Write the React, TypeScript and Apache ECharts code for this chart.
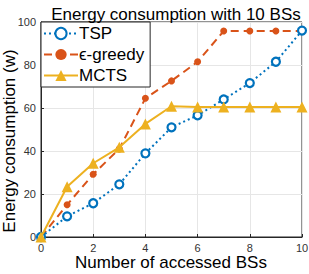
import React, { useEffect, useRef } from "react";
import * as echarts from "echarts";

const xCats = [0, 1, 2, 3, 4, 5, 6, 7, 8, 9, 10];
const tspVals = [0, 9.6, 15.7, 24.5, 38.9, 51, 56.6, 64, 71.6, 81.5, 96];
const greedyVals = [0, 15, 29.2, 41, 64.5, 72.6, 81.5, 95.8, 95.8, 95.8, 95.8];
const mctsVals = [0, 23.4, 34.3, 41.7, 52.6, 60.8, 60.5, 60.5, 60.5, 60.5, 60.5];

const FONT = "Liberation Sans";

export default function App() {
  const ref = useRef<HTMLDivElement>(null);
  useEffect(() => {
    if (!ref.current) return;
    const chart = echarts.init(ref.current, undefined, { renderer: "svg" });
    const pair = (vals: number[]) => xCats.map((x, i) => [x, vals[i]]);
    chart.setOption({
      animation: false,
      backgroundColor: "#ffffff",
      textStyle: { fontFamily: FONT },
      title: {
        text: "Energy consumption with 10 BSs",
        left: 171,
        textAlign: "center",
        top: 1,
        textStyle: { fontFamily: FONT, fontSize: 17, fontWeight: "normal", color: "#000" },
      },
      graphic: [
        {
          type: "text",
          x: 9.5,
          y: 141,
          rotation: Math.PI / 2,
          style: {
            text: "Energy consumption (w)",
            fontFamily: FONT,
            fontSize: 17,
            fill: "#000",
            align: "center",
            verticalAlign: "middle",
          },
        },
        {
          type: "text",
          x: 171,
          y: 262,
          style: {
            text: "Number of accessed BSs",
            fontFamily: FONT,
            fontSize: 17,
            fill: "#000",
            align: "center",
            verticalAlign: "middle",
          },
        },
      ],
      grid: {
        left: 41,
        right: 7,
        top: 22,
        bottom: 37,
        containLabel: false,
        outerBoundsMode: "none",
        show: true,
        borderColor: "#262626",
        borderWidth: 1,
        backgroundColor: "#fff",
      },
      legend: {
        orient: "vertical",
        left: 41,
        top: 22,
        backgroundColor: "#fff",
        borderColor: "#262626",
        borderWidth: 1,
        borderRadius: 0,
        padding: [3, 6, 3, 2],
        itemGap: 4,
        itemWidth: 34,
        itemHeight: 14,
        textStyle: { fontFamily: FONT, fontSize: 17, color: "#000", padding: [0, 0, 0, -4] },
        data: ["TSP", "ϵ-greedy", "MCTS"],
      },
      xAxis: {
        type: "value",
        min: 0,
        max: 10,
        interval: 2,
        axisLine: { show: true, lineStyle: { color: "#262626" } },
        axisTick: { show: true, inside: true, length: 3, lineStyle: { color: "#262626" } },
        axisLabel: { fontFamily: FONT, fontSize: 11, color: "#333", margin: 5 },
        splitLine: { show: true, lineStyle: { color: "#e6e6e6", width: 1 } },
      },
      yAxis: {
        type: "value",
        min: 0,
        max: 100,
        interval: 20,
        axisLine: { show: true, lineStyle: { color: "#262626" } },
        axisTick: { show: true, inside: true, length: 3, lineStyle: { color: "#262626" } },
        axisLabel: { fontFamily: FONT, fontSize: 11, color: "#333", margin: 5 },
        splitLine: { show: true, lineStyle: { color: "#e6e6e6", width: 1 } },
      },
      series: [
        {
          name: "TSP",
          type: "line",
          data: pair(tspVals),
          z: 3,
          symbol: "circle",
          symbolSize: 8,
          showAllSymbol: true,
          lineStyle: { color: "#0072BD", width: 2, type: [2, 3] },
          itemStyle: { color: "#fff", borderColor: "#0072BD", borderWidth: 2.2 },
        },
        {
          name: "ϵ-greedy",
          type: "line",
          data: pair(greedyVals),
          z: 2,
          symbol: "circle",
          symbolSize: 7,
          lineStyle: { color: "#D95319", width: 2, type: [8, 5] },
          itemStyle: { color: "#D95319", borderColor: "#D95319", borderWidth: 0 },
        },
        {
          name: "MCTS",
          type: "line",
          data: pair(mctsVals),
          z: 4,
          symbol: "triangle",
          symbolSize: 11,
          lineStyle: { color: "#EDB120", width: 2 },
          itemStyle: { color: "#EDB120", borderColor: "#EDB120", borderWidth: 0 },
        },
      ],
    });
    return () => chart.dispose();
  }, []);
  return <div ref={ref} style={{ width: 309, height: 274, position: "absolute", left: 0, top: 0 }} />;
}
